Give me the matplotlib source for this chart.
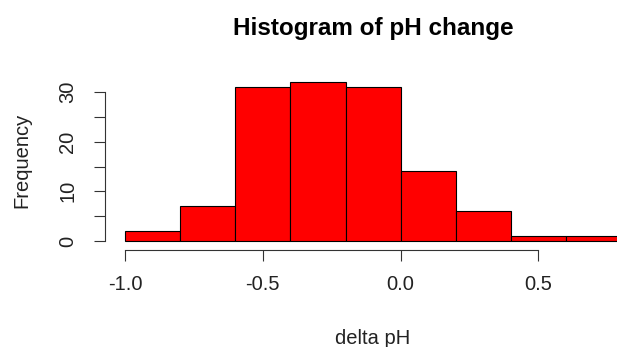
import numpy as np
import matplotlib
matplotlib.use("Agg")
import matplotlib.pyplot as plt

# histogram of pH change (bin edges and counts)
bin_edges = [-1.0, -0.8, -0.6, -0.4, -0.2, 0.0, 0.2, 0.4, 0.6, 0.8]
counts = [2, 7, 31, 32, 31, 14, 6, 1, 1]
x_ticks = [-1.0, -0.5, 0.0, 0.5]
x_tick_labels = ["-1.0", "-0.5", "0.0", "0.5"]
y_ticks = [0, 5, 10, 15, 20, 25, 30]
y_tick_labels = ["0", "", "10", "", "20", "", "30"]

plt.rcParams["font.family"] = ["Liberation Sans", "DejaVu Sans"]

W, H = 617, 347
fig = plt.figure(figsize=(W / 100, H / 100), dpi=100)

# plot region in pixels (R style, 4% padding)
left_px, right_px = 105.2, 641.0
top_px, bottom_px = 75.7, 247.4
ax = fig.add_axes([left_px / W, 1 - bottom_px / H,
                   (right_px - left_px) / W, (bottom_px - top_px) / H])

widths = np.diff(bin_edges)
ax.bar(bin_edges[:-1], counts, width=widths, align="edge",
       color="red", edgecolor="black", linewidth=0.8)

ax.set_xlim(-1.072, 0.872)
ax.set_ylim(-1.28, 33.28)

for s in ["top", "right"]:
    ax.spines[s].set_visible(False)
ax.spines["bottom"].set_bounds(-1.0, 0.5)
ax.spines["left"].set_bounds(0, 30)
ax.spines["bottom"].set_position(("outward", 2))
for s in ["bottom", "left"]:
    ax.spines[s].set_linewidth(0.8)
    ax.spines[s].set_color("#333333")

ax.set_xticks(x_ticks)
ax.set_xticklabels(x_tick_labels)
ax.set_yticks(y_ticks)
ax.set_yticklabels(y_tick_labels, rotation=90, va="center")
ax.tick_params(axis="both", length=8, width=0.8, color="#333333",
               labelsize=14.5, labelcolor="#222222")
ax.tick_params(axis="x", pad=10)
ax.tick_params(axis="y", pad=12)

fig.text(373 / W, 1 - 28 / H, "Histogram of pH change", ha="center",
         va="center", fontsize=17.5, fontweight="bold")
fig.text(373 / W, 1 - 339 / H, "delta pH", ha="center", va="center",
         fontsize=14.5, color="#222222")
fig.text(22 / W, 1 - 160 / H, "Frequency", ha="center", va="center",
         rotation=90, fontsize=14.5, color="#222222")

fig.savefig("out.png", dpi=100)
